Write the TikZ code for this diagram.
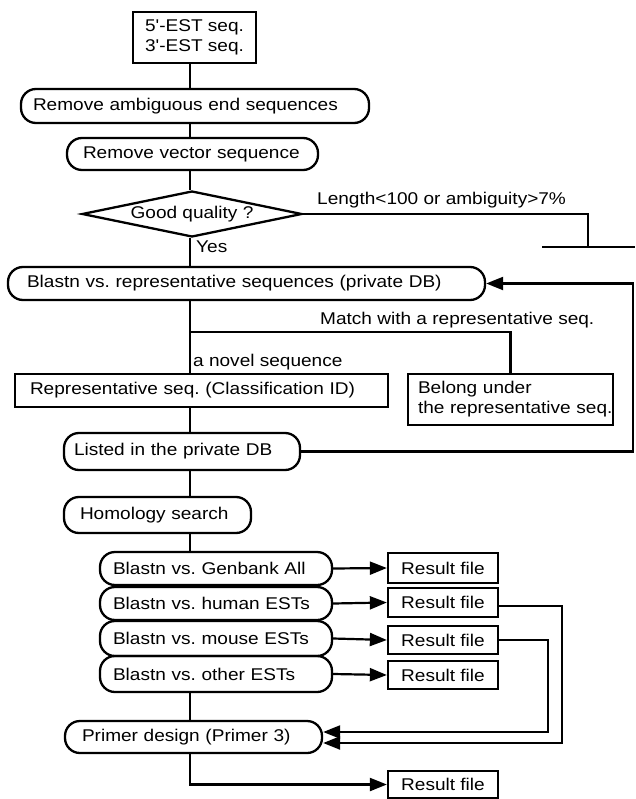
\documentclass[tikz,border=0pt]{standalone}
\usepackage{fontspec}
\newfontfamily\diagfont{Liberation Sans}[FakeStretch=1.12]
\usetikzlibrary{shapes.geometric,arrows.meta}
\begin{document}
\begin{tikzpicture}[x=1pt,y=-1pt,
  every node/.style={font=\diagfont\fontsize{17}{20}\selectfont\frenchspacing},
  pill/.style={draw, line width=2.3pt, rounded corners=15pt, align=left, inner ysep=0pt},
  rbox/.style={draw, line width=2.3pt, inner ysep=0pt},
  decision/.style={draw, line width=2.3pt, shape=diamond, inner sep=0pt, shape aspect=4.78},
  conn/.style={line width=2.2pt},
  arr/.style={line width=2.2pt, -{Triangle[length=17pt,width=13pt]}},
  lbl/.style={inner sep=0pt, anchor=base west}]
\useasboundingbox (0,0) rectangle (635,799);
\coordinate (sx) at (190,0);

% nodes
\node[rbox, align=center, minimum width=123pt, minimum height=51pt] (top) at (194.5,37.5) {5'-EST seq.\\3'-EST seq.};
\node[pill, minimum height=34pt, text width=324pt, inner xsep=12pt] (amb) at (195,106) {Remove ambiguous end sequences};
\node[pill, minimum height=32pt, text width=219pt, inner xsep=16pt] (vec) at (192.5,154) {Remove vector sequence};
\node[decision, minimum width=220pt, minimum height=46pt] (q) at (192,214) {Good quality ?};
\node[pill, minimum height=33pt, text width=439pt, inner xsep=19pt] (rep) at (246.5,283.5) {Blastn vs. representative sequences (private DB)};
\node[rbox, minimum height=33pt, text width=343pt, inner xsep=15pt, align=left] (rp) at (201.5,390.5) {Representative seq. (Classification ID)};
\node[rbox, minimum height=51pt, text width=185pt, inner xsep=10pt, align=left] (bel) at (510.5,399.5) {\mbox{Belong under}\\\mbox{the representative seq.}};
\node[pill, minimum height=37pt, text width=216pt, inner xsep=10pt] (lst) at (182,451.5) {Listed in the private DB};
\node[pill, minimum height=36pt, text width=155pt, inner xsep=16pt] (hom) at (157.5,515) {Homology search};
\node[pill, minimum height=33pt, text width=206pt, inner xsep=13pt] (g) at (216,568.5) {Blastn vs. Genbank All};
\node[pill, minimum height=33pt, text width=206pt, inner xsep=13pt] (hu) at (216,603.5) {Blastn vs. human ESTs};
\node[pill, minimum height=35pt, text width=206pt, inner xsep=13pt] (mo) at (216,638.5) {Blastn vs. mouse ESTs};
\node[pill, minimum height=36pt, text width=206pt, inner xsep=13pt] (ot) at (216,674) {Blastn vs. other ESTs};
\node[pill, minimum height=32pt, text width=223pt, inner xsep=17pt] (pr) at (193.5,737) {Primer design (Primer 3)};
\node[rbox, minimum width=110pt, minimum height=30pt] (r1) at (443,568) {Result file};
\node[rbox, minimum width=110pt, minimum height=29pt] (r2) at (443,602.5) {Result file};
\node[rbox, minimum width=110pt, minimum height=28pt] (r3) at (443,640) {Result file};
\node[rbox, minimum width=110pt, minimum height=28pt] (r4) at (443,675) {Result file};
\node[rbox, minimum width=110pt, minimum height=27pt] (r5) at (443,784.5) {Result file};

% labels
\node[lbl] (lenlbl) at (317,205) {Length<100 or ambiguity>7\%};
\node[lbl] (yes) at (196,253) {Yes};
\node[lbl] (match) at (320,324) {Match with a representative seq.};
\node[lbl] (novel) at (193,366) {a novel sequence};

% coordinates
\coordinate (rj) at (588,247);
\coordinate (ra) at (542,247);
\coordinate (rb) at (635,247);
\coordinate (br) at (190,332);
\coordinate (lp) at (633,0);
\coordinate (v2) at (562,0);
\coordinate (v3) at (548,0);
\coordinate (p2) at ([yshift=-6pt]pr.east);
\coordinate (p3) at ([yshift=5pt]pr.east);

% connectors
\draw[conn] (top.south -| sx) -- (amb.north -| sx);
\draw[conn] (amb.south -| sx) -- (vec.north -| sx);
\draw[conn] (vec.south -| sx) -- (q.north -| sx);
\draw[conn] (q.south -| sx) -- (rep.north -| sx);
\draw[conn] (q.east) -| (rj);
\draw[conn] (ra) -- (rb);
\draw[conn] (rep.south -| sx) -- (rp.north -| sx);
\draw[conn] (br) -| (bel.north);
\draw[conn] (rp.south -| sx) -- (lst.north -| sx);
\draw[arr] (lst.east) -- (lst.east -| lp) -- (rep.east -| lp) -- (rep.east);
\draw[conn] (lst.south -| sx) -- (hom.north -| sx);
\draw[conn] (hom.south -| sx) -- (g.north -| sx);
\draw[arr] (g.east) -- (r1.west);
\draw[arr] (hu.east) -- (r2.west);
\draw[arr] (mo.east) -- (r3.west);
\draw[arr] (ot.east) -- (r4.west);
\draw[conn] (ot.south -| sx) -- (pr.north -| sx);
\draw[arr] ([yshift=-3.5pt]r2.east) -| (p2 -| v2) -- (p2);
\draw[arr] (r3.east) -| (p3 -| v3) -- (p3);
\draw[arr] (pr.south -| sx) |- (r5.west);
\end{tikzpicture}
\end{document}
